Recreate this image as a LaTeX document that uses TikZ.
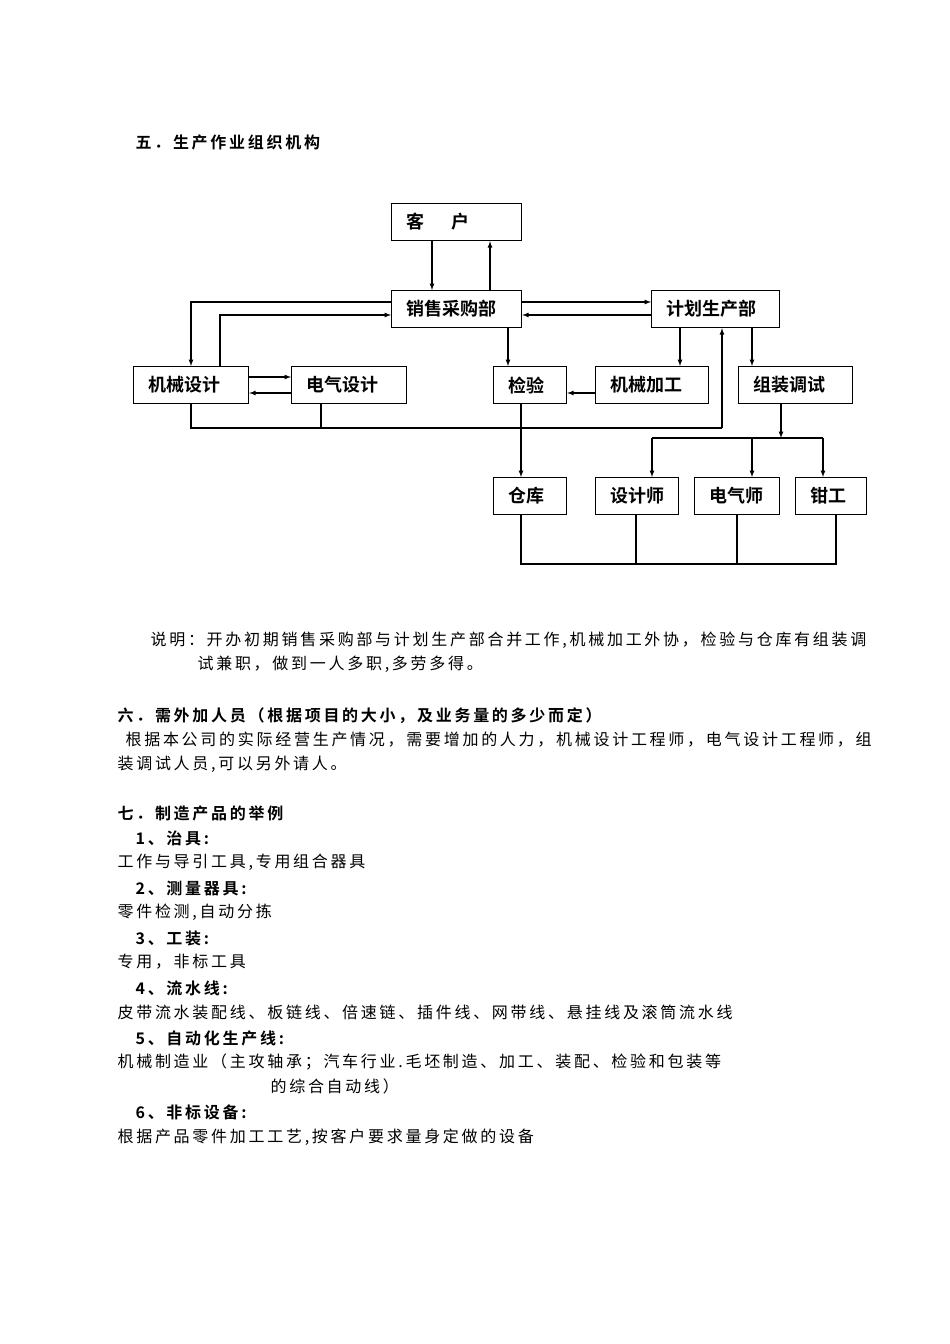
\documentclass[tikz,border=0pt]{standalone}
\usepackage{fontspec}
\newfontfamily\cjk[LetterSpace=17]{Noto Sans CJK SC}
\newfontfamily\cjkb[LetterSpace=17]{Noto Sans CJK SC Bold}
\newfontfamily\cjkbox{Noto Sans CJK SC Bold}
\begin{document}
\begin{tikzpicture}[x=1pt,y=-1pt,line width=1.2pt,>={latex},
 bx/.style={draw,minimum height=37pt,anchor=north west,inner sep=0pt},
 bt/.style={font=\cjkbox\fontsize{18}{18}\selectfont},
 hd/.style={anchor=west,inner sep=0pt,font=\cjkb\fontsize{16}{16}\selectfont},
 tx/.style={anchor=west,inner sep=0pt,font=\cjk\fontsize{16}{16}\selectfont}]
\useasboundingbox[fill=white] (0,0) rectangle (950,1344);
\def\B#1#2#3#4#5{\node[bx,minimum width=#4pt] (#1) at (#2,#3) {};
 \node[bt,anchor=west] at ([xshift=12pt]#1.west) {#5};}
\B{kh}{391}{203}{130}{客\hspace{1.5em}户}
\B{xs}{391}{290}{130}{销售采购部}
\B{jh}{651}{290}{128}{计划生产部}
\B{jx}{133}{366}{115}{机械设计}
\B{dq}{291}{366}{115}{电气设计}
\B{jy}{493}{366}{73}{检验}
\B{jg}{595}{366}{113}{机械加工}
\B{zz}{738}{366}{114}{组装调试}
\B{ck}{493}{477}{73}{仓库}
\B{sj}{595}{477}{83}{设计师}
\B{ds}{694}{477}{85}{电气师}
\B{qg}{795}{477}{71}{钳工}
% customer
\draw[->] (kh.south -| 432,0) -- (xs.north -| 432,0);
\draw[->] (xs.north -| 490,0) -- (kh.south -| 490,0);
% sales <-> plan
\draw[->] (xs.east |- 0,302) -- (jh.west |- 0,302);
\draw[->] (jh.west |- 0,315) -- (xs.east |- 0,315);
% sales <-> mech design
\draw[->] (xs.west |- 0,302) -| (jx.north -| 191,0);
\draw[->] (jx.north -| 220,0) |- (xs.west |- 0,315);
\draw[->] (jx.east |- 0,377) -- (dq.west |- 0,377);
\draw[->] (dq.west |- 0,393) -- (jx.east |- 0,393);
% design -> plan
\coordinate (c1) at (722,428);
\draw (jx.south -| 191,0) |- (c1);
\draw (dq.south -| 321,0) -- (321,428);
\draw[->] (c1) -- (jh.south -| c1);
% sales->inspect, plan->machining/assembly
\draw[->] (xs.south -| 508,0) -- (jy.north -| 508,0);
\draw[->] (jh.south -| 680,0) -- (jg.north -| 680,0);
\draw[->] (jh.south -| 752,0) -- (zz.north -| 752,0);
\draw[->] (jg.west |- 0,393) -- (jy.east |- 0,393);
\draw[->] (jy.south -| 521,0) -- (ck.north -| 521,0);
% assembly -> staff
\coordinate (c2) at (781,438);
\draw[->] (zz.south -| c2) -- (c2);
\draw (652,438) -- (823,438);
\draw[->] (652,438) -- (sj.north -| 652,0);
\draw[->] (752,438) -- (ds.north -| 752,0);
\draw[->] (823,438) -- (qg.north -| 823,0);
% bottom
\draw (ck.south -| 521,0) |- (836,564) -- (qg.south -| 836,0);
\draw (sj.south -| 636,0) -- (636,564);
\draw (ds.south -| 737,0) -- (737,564);
% text
\node[hd] at (135,142) {五．生产作业组织机构};
\node[tx] at (150,640) {说明：开办初期销售采购部与计划生产部合并工作,机械加工外协，检验与仓库有组装调};
\node[tx] at (197,664) {试兼职，做到一人多职,多劳多得。};
\node[hd] at (117,716) {六．需外加人员（根据项目的大小，及业务量的多少而定）};
\node[tx] at (125,740) {根据本公司的实际经营生产情况，需要增加的人力，机械设计工程师，电气设计工程师，组};
\node[tx] at (117,764) {装调试人员,可以另外请人。};
\node[hd] at (117,813) {七．制造产品的举例};
\node[hd] at (135,838) {1、治具:};
\node[tx] at (117,862) {工作与导引工具,专用组合器具};
\node[hd] at (135,888) {2、测量器具:};
\node[tx] at (117,912) {零件检测,自动分拣};
\node[hd] at (135,938) {3、工装:};
\node[tx] at (117,962) {专用，非标工具};
\node[hd] at (135,988) {4、流水线:};
\node[tx] at (117,1012) {皮带流水装配线、板链线、倍速链、插件线、网带线、悬挂线及滚筒流水线};
\node[hd] at (135,1038) {5、自动化生产线:};
\node[tx] at (117,1062) {机械制造业（主攻轴承；汽车行业.毛坯制造、加工、装配、检验和包装等};
\node[tx] at (270,1086) {的综合自动线）};
\node[hd] at (135,1112) {6、非标设备:};
\node[tx] at (117,1137) {根据产品零件加工工艺,按客户要求量身定做的设备};
\end{tikzpicture}
\end{document}
